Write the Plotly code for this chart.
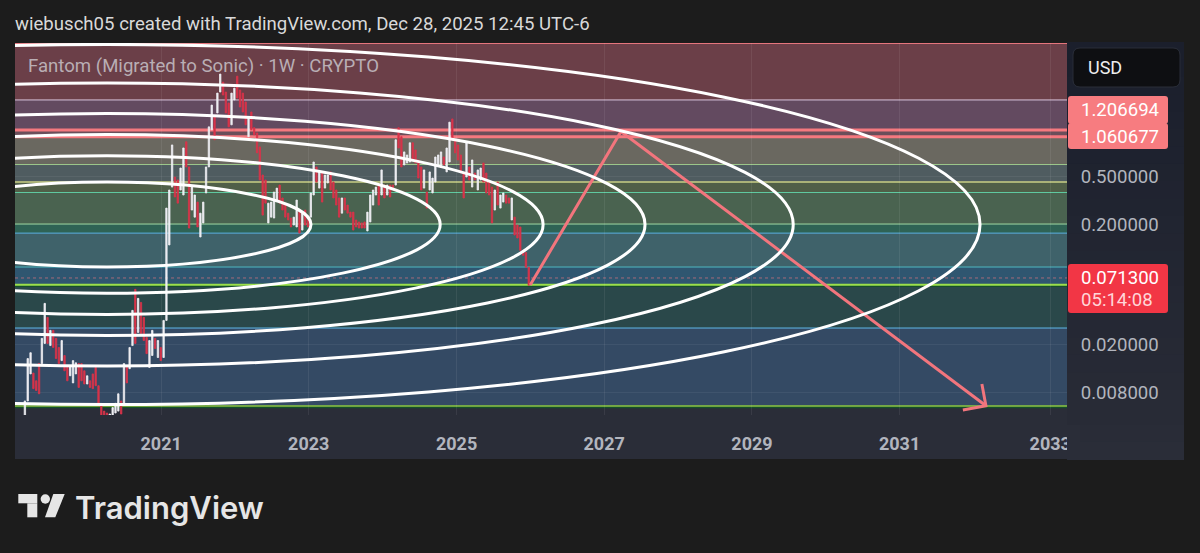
import pandas as pd
import plotly.graph_objects as go

# Chart text
header_text = 'wiebusch05 created with TradingView.com, Dec 28, 2025 12:45 UTC-6'
title_text = 'Fantom (Migrated to Sonic) · 1W · CRYPTO'

# Axis ticks
tick_dates = ['2021-01-01', '2023-01-01', '2025-01-01', '2027-01-01', '2029-01-01', '2031-01-01', '2033-01-15']
tick_labels = ['2021', '2023', '2025', '2027', '2029', '2031', '2033']
price_ticks = [0.5, 0.2, 0.02, 0.008]
price_tick_labels = ['0.500000', '0.200000', '0.020000', '0.008000']

# Candles, one every two weeks
candle_start = '2019-02-27'
candle_high = [
    .0068, .0153, .0171, .0116, .0100, .0139, .0225, .0439, .0336, .0262,
    .0262, .0225, .0189, .0216, .0162, .0134, .0134, .0147, .0141, .0139,
    .0139, .0121, .0110, .0100, .0114, .0129, .0091, .0064, .0056, .0054,
    .0053, .0060, .0065, .0078, .0068, .0139, .0134, .0189, .0384, .0574,
    .0483, .0447, .0336, .0229, .0216, .0262, .0225, .0216, .0189, .0317,
    .271, .383, .906, .491, .464, .583, .855, .962, .595, .405,
    .348, .304, .246, .304, .595, 1.28, 1.94, 1.55, 2.44, 3.51,
    3.01, 2.49, 2.02, 2.44, 2.68, 3.37, 2.59, 2.44, 2.06, 1.55,
    1.70, 1.26, 1.14, .872, .510, .464, .298, .304, .368, .397,
    .421, .329, .298, .246, .224, .228, .316, .261, .246, .261,
    .216, .362, .654, .595, .541, .541, .510, .510, .541, .446,
    .383, .329, .329, .329, .287, .251, .251, .216, .208, .204,
    .208, .251, .348, .383, .405, .421, .562, .421, .421, .421,
    .421, 1.00, 1.26, 1.06, .793, .748, .944, .944, .824, .680,
    .595, .562, .368, .541, .481, .720, .748, .793, .720, .855,
    1.40, 1.49, 1.00, .906, .748, .541, .944, .595, .680, .530,
    .562, .583, .642, .530, .446, .405, .383, .446, .348, .362,
    .348, .329, .329, .228, .196, .189, .121, .116, .0875,
]
candle_low = [
    .0051, .0068, .0114, .0086, .0083, .0078, .0139, .0204, .0204, .0196,
    .0189, .0153, .0139, .0147, .0121, .0100, .0110, .0096, .0114, .0088,
    .0100, .0094, .0094, .0088, .0086, .0091, .0062, .0050, .0042, .0038,
    .0042, .0050, .0054, .0056, .0053, .0064, .0096, .0126, .0196, .0204,
    .0252, .0247, .0216, .0168, .0129, .0162, .0185, .0156, .0147, .0156,
    .0317, .134, .405, .335, .298, .383, .348, .595, .185, .261,
    .228, .189, .156, .204, .362, .595, 1.21, 1.00, 1.67, 2.49,
    2.35, 1.67, 1.28, 1.33, 2.14, 2.22, 1.87, 1.70, 1.33, 1.06,
    1.21, 1.10, .778, .464, .237, .298, .204, .228, .224, .316,
    .298, .261, .228, .216, .189, .196, .189, .168, .178, .196,
    .189, .228, .348, .446, .397, .304, .397, .438, .383, .329,
    .287, .228, .246, .261, .246, .228, .178, .189, .185, .185,
    .185, .175, .208, .287, .348, .287, .348, .329, .348, .335,
    .397, .421, .855, .595, .618, .642, .654, .680, .642, .481,
    .383, .397, .271, .383, .362, .446, .618, .595, .618, .541,
    .654, 1.00, .778, .680, .530, .329, .491, .464, .405, .464,
    .383, .464, .446, .362, .348, .204, .261, .287, .271, .304,
    .298, .298, .216, .162, .153, .121, .110, .0875, .0620,
]
candle_up = [
    1, 1, 1, 0, 0, 0, 1, 1, 0, 1,
    0, 0, 0, 1, 0, 0, 1, 1, 1, 0,
    0, 0, 1, 0, 0, 0, 0, 0, 0, 0,
    1, 1, 1, 1, 0, 1, 0, 1, 1, 0,
    1, 0, 0, 0, 1, 1, 0, 1, 0, 1,
    1, 1, 1, 0, 0, 1, 1, 0, 0, 1,
    1, 0, 1, 1, 1, 1, 1, 0, 1, 1,
    0, 0, 0, 1, 1, 0, 0, 0, 0, 1,
    0, 0, 0, 0, 0, 0, 1, 1, 1, 1,
    0, 0, 0, 0, 0, 1, 1, 0, 1, 0,
    0, 1, 1, 0, 1, 0, 1, 1, 0, 0,
    0, 0, 1, 0, 0, 0, 0, 0, 0, 0,
    0, 1, 1, 1, 1, 0, 1, 0, 1, 0,
    0, 1, 0, 0, 1, 1, 1, 0, 0, 0,
    0, 1, 0, 1, 1, 1, 1, 1, 0, 1,
    1, 0, 0, 0, 0, 0, 1, 0, 1, 0,
    1, 1, 0, 0, 0, 0, 1, 0, 1, 1,
    0, 0, 1, 0, 0, 0, 0, 0, 0,
]

# Fib levels, top to bottom, with the band underneath each one
fib_prices = [6.3, 2.14, 1.206694, 1.060677, 0.623, 0.446, 0.365, 0.2, 0.168, 0.0879, 0.0627, 0.0274, 0.00618]
fib_line_colors = ['#f07a80', '#d8c4dc', '#f5797f', '#f5797f', '#9dc98c', '#c8cf84', '#5fc9a0',
                   '#96d39a', '#5ab0e0', '#4fb8c0', '#9be04a', '#60b8e8', '#8ac840']
fib_line_widths = [1, 1, 3, 3, 1, 1.5, 1, 1, 1, 1, 2, 1, 1.5]
band_colors = ['#6b3f48', '#634a60', '#6b4e5a', '#6a6860', '#4f5c60', '#505f48', '#4a6350',
               '#2f6355', '#3f626a', '#2f5670', '#2a484a', '#344a64']
# dark edge just under the two green levels
shadow_prices = [0.0609, 0.0060]

# Fib circles: bounding box of each ellipse
ellipse_left = ['2017-07-04', '2015-10-04', '2014-05-14', '2012-12-25', '2010-12-24', '2008-06-12']
ellipse_right = ['2023-01-12', '2024-10-12', '2026-03-05', '2027-07-22', '2029-07-24', '2032-02-03']
ellipse_top = [0.446, 0.738, 1.106, 1.652, 2.96, 6.18]
ellipse_bottom = [0.0879, 0.0532, 0.0355, 0.02377, 0.01327, 0.00635]

# Drawn projection
path_dates = ['2025-12-31', '2027-03-25', '2032-03-03']
path_prices = [0.0624, 1.171, 0.00621]
barb_dates = ['2032-02-12', '2032-03-03', '2031-11-10']
barb_prices = [0.0094, 0.00621, 0.00572]

last_price = 0.0713

WIDTH, HEIGHT = 1200, 553
LEFT, RIGHT, TOP, BOTTOM = 15, 1067, 43, 415


def px(x):
    return (x - LEFT) / (RIGHT - LEFT)


def py(y):
    return (BOTTOM - y) / (BOTTOM - TOP)


def rounded(x0, y0, x1, y1, r):
    # rounded box in pixels, written as a path in paper coordinates
    pts = [('M', x0 + r, y0), ('L', x1 - r, y0), ('Q', x1, y0, x1, y0 + r), ('L', x1, y1 - r),
           ('Q', x1, y1, x1 - r, y1), ('L', x0 + r, y1), ('Q', x0, y1, x0, y1 - r),
           ('L', x0, y0 + r), ('Q', x0, y0, x0 + r, y0)]
    out = ''
    for p in pts:
        out += p[0]
        vals = p[1:]
        out += ' '.join(f'{px(vals[i]):.5f},{py(vals[i + 1]):.5f}' for i in range(0, len(vals), 2)) + ' '
    return out + 'Z'


def box(x0, y0, x1, y1, color, layer='below'):
    return dict(type='rect', xref='paper', yref='paper', x0=px(x0), x1=px(x1), y0=py(y0), y1=py(y1),
                fillcolor=color, line_width=0, layer=layer)


def label(x, y, text, color, size, family='Roboto', weight=400):
    return dict(xref='paper', yref='paper', x=px(x), y=py(y), text=text, showarrow=False,
                xanchor='left', yanchor='middle', font=dict(family=family, size=size, color=color, weight=weight))


candle_dates = pd.date_range(candle_start, periods=len(candle_high), freq='14D')
candle_open = [l if u else h for h, l, u in zip(candle_high, candle_low, candle_up)]
candle_close = [h if u else l for h, l, u in zip(candle_high, candle_low, candle_up)]

fig = go.Figure()
fig.add_trace(go.Candlestick(
    x=candle_dates, open=candle_open, high=candle_high, low=candle_low, close=candle_close,
    increasing=dict(line=dict(color='#eeeef2', width=0.8), fillcolor='#eeeef2'),
    decreasing=dict(line=dict(color='#d8344a', width=0.8), fillcolor='#d8344a'),
    whiskerwidth=0, hoverinfo='skip', showlegend=False,
))
fig.add_trace(go.Scatter(x=path_dates, y=path_prices, mode='lines', line=dict(color='#f2757d', width=3),
                         hoverinfo='skip', showlegend=False))
fig.add_trace(go.Scatter(x=barb_dates, y=barb_prices, mode='lines', line=dict(color='#f2757d', width=3),
                         hoverinfo='skip', showlegend=False))

shapes = []
# time strip and price panel
shapes.append(box(15, 415, 1067, 459, '#2a2d38'))
steps = 24
for s in range(steps):
    t = s / (steps - 1)
    col = f'rgb({int(27 + 15 * t)},{int(31 + 14 * t)},{int(44 + 12 * t)})'
    shapes.append(box(1067, 42 + 417 * s / steps, 1184, 42 + 417 * (s + 1) / steps + 1, col))

# bands and level lines
for i, col in enumerate(band_colors):
    shapes.append(dict(type='rect', xref='paper', yref='y', x0=0, x1=1, y0=fib_prices[i + 1], y1=fib_prices[i],
                       fillcolor=col, line_width=0, layer='below'))
for price in shadow_prices:
    shapes.append(dict(type='line', xref='paper', yref='y', x0=0, x1=1, y0=price, y1=price,
                       line=dict(color='#14502a', width=1.5), layer='below'))
for price, col, w in zip(fib_prices, fib_line_colors, fib_line_widths):
    shapes.append(dict(type='line', xref='paper', yref='y', x0=0, x1=1, y0=price, y1=price,
                       line=dict(color=col, width=w), layer='below'))
shapes.append(dict(type='line', xref='paper', yref='y', x0=0, x1=1, y0=last_price, y1=last_price,
                   line=dict(color='rgba(240,120,130,0.6)', width=1, dash='dot'), layer='below'))

# fib circles
for x0, x1, y0, y1 in zip(ellipse_left, ellipse_right, ellipse_bottom, ellipse_top):
    shapes.append(dict(type='circle', xref='x', yref='y', x0=x0, x1=x1, y0=y0, y1=y1,
                       line=dict(color='#ffffff', width=3), layer='above'))

# the 2033 label is cut off at the price panel
shapes.append(box(1067, 425, 1080, 455, '#2a2d38', layer='above'))

# USD button and price tags
shapes.append(dict(type='path', path=rounded(1073, 48, 1180, 87, 7), xref='paper', yref='paper',
                   fillcolor='#0e0f12', line=dict(color='#2a2e39', width=1), layer='below'))
shapes.append(dict(type='path', path=rounded(1068, 96, 1168, 124, 3), xref='paper', yref='paper',
                   fillcolor='#f77c80', line_width=0, layer='below'))
shapes.append(dict(type='path', path=rounded(1068, 123, 1168, 149, 3), xref='paper', yref='paper',
                   fillcolor='#f77c80', line_width=0, layer='below'))
shapes.append(dict(type='path', path=rounded(1068, 264, 1168, 313, 3), xref='paper', yref='paper',
                   fillcolor='#f23645', line_width=0, layer='below'))

# logo mark
logo = '#e6e6e6'
shapes.append(box(18.3, 494, 37.3, 503.3, logo))
shapes.append(box(27.3, 503.3, 37.3, 517.3, logo))
shapes.append(dict(type='circle', xref='paper', yref='paper', x0=px(40.6), x1=px(50), y0=py(503.7), y1=py(494.3),
                   fillcolor=logo, line_width=0, layer='below'))
shapes.append(dict(type='path', xref='paper', yref='paper', fillcolor=logo, line_width=0, layer='below',
                   path=f'M{px(53.3):.5f},{py(494):.5f} L{px(64.7):.5f},{py(494):.5f} '
                        f'L{px(55.3):.5f},{py(517.3):.5f} L{px(45):.5f},{py(517.3):.5f} Z'))

annotations = [
    label(13, 24, header_text, '#d9d9d9', 18.6),
    label(26, 66, title_text, '#b9aeb4', 18.6),
    label(1086, 67.5, 'USD', '#eeeeee', 18),
    label(1079, 110.5, '1.206694', '#ffffff', 18.6),
    label(1079, 137, '1.060677', '#ffffff', 18.6),
    label(1079, 278, '0.071300', '#ffffff', 18.6),
    label(1079, 299.5, '05:14:08', '#ffd5d8', 18.6),
    label(73, 507, 'TradingView', logo, 31, family='Inter', weight=600),
]

fig.update_layout(
    width=WIDTH, height=HEIGHT, autosize=False,
    margin=dict(l=LEFT, r=WIDTH - RIGHT, t=TOP, b=HEIGHT - BOTTOM, pad=0),
    paper_bgcolor='#1c1c1c', plot_bgcolor='#2a2d38',
    showlegend=False,
    shapes=shapes, annotations=annotations,
    xaxis=dict(
        type='date', range=['2019-01-09', '2033-04-08'], rangeslider=dict(visible=False),
        tickmode='array', tickvals=tick_dates, ticktext=tick_labels,
        tickfont=dict(family='Roboto', size=18, color='#b2b5be', weight=700),
        ticks='outside', ticklen=12, tickcolor='rgba(0,0,0,0)',
        showgrid=True, gridcolor='rgba(255,255,255,0.07)', gridwidth=1, zeroline=False, showline=False,
    ),
    yaxis=dict(
        type='log', side='right', range=[-2.284, 0.803],
        tickmode='array', tickvals=price_ticks, ticktext=price_tick_labels,
        tickfont=dict(family='Roboto', size=18.6, color='#b2b5be'),
        ticks='outside', ticklen=9, tickcolor='rgba(0,0,0,0)',
        showgrid=True, gridcolor='rgba(255,255,255,0.06)', gridwidth=1, zeroline=False, showline=False,
    ),
)

# plotly's page leaves the browser's default body margin in place
fig.write_html("out.html", config={'displayModeBar': False},
               post_script="document.body.style.margin='0';")
